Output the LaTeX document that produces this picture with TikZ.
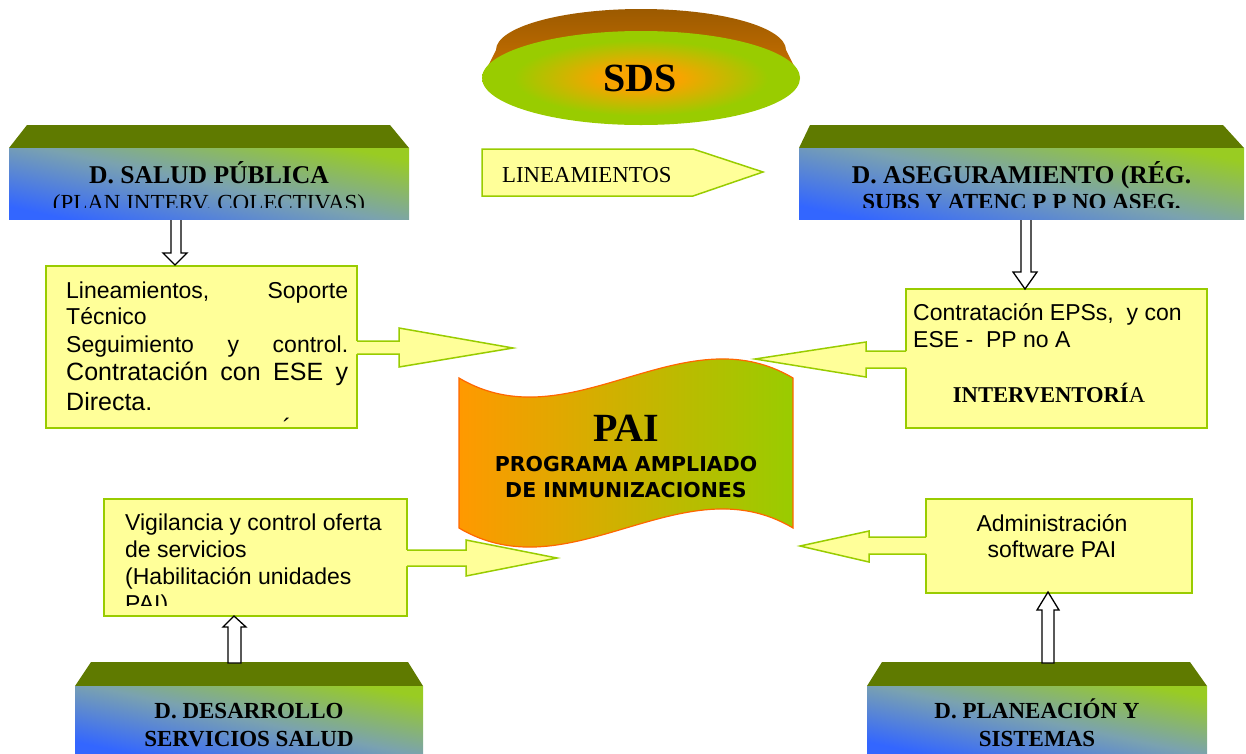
\documentclass[tikz,border=0pt]{standalone}
\usepackage{fontspec}
\setmainfont{Liberation Serif}
\setsansfont{Liberation Sans}
\newfontfamily\dvs{DejaVu Sans}
\definecolor{cYel}{HTML}{FFFF99}
\definecolor{cYG}{HTML}{99CC00}
\definecolor{cOlive}{HTML}{5F7A00}
\definecolor{cDB}{HTML}{3366FF}
\definecolor{cDM}{HTML}{7AA2B0}
\definecolor{cDG}{HTML}{99CC22}
\definecolor{cRimT}{HTML}{9C5A00}
\definecolor{cRimB}{HTML}{CC7200}
\definecolor{cSdsIn}{HTML}{F8A400}
\definecolor{cSdsOut}{HTML}{99CC00}
\definecolor{cPaiL}{HTML}{FF9900}
\definecolor{cPaiR}{HTML}{99CC00}
\definecolor{cPaiE}{HTML}{FF6600}
\pgfdeclareradialshading{sdsshade}{\pgfpoint{0bp}{0bp}}{color(0bp)=(cSdsIn); color(6bp)=(cSdsIn); color(13bp)=(cSdsIn!50!cSdsOut); color(20bp)=(cSdsOut); color(50bp)=(cSdsOut)}
\begin{document}
\begin{tikzpicture}[x=1pt,y=-1pt,
  ybox/.style={fill=cYel, draw=cYG, line width=1.5pt, inner sep=0pt},
  bafill/.style={fill=cYel},
  baline/.style={draw=cYG, line width=1.5pt, line join=miter},
  harrow/.style={fill=white, draw=black, line width=1.3pt, line join=miter},
  depttop/.style={fill=cOlive},
  deptfront/.style={top color=cDG, bottom color=cDB, middle color=cDM, shading angle=-12, inner sep=0pt},
  sanstxt/.style={font=\sffamily\fontsize{23}{27}\selectfont, inner sep=0pt},
  sansbig/.style={font=\sffamily\fontsize{25}{30}\selectfont, inner sep=0pt},
  deptA/.style={font=\bfseries\fontsize{25.6}{30}\selectfont, inner sep=0pt, anchor=base},
  deptB/.style={font=\fontsize{23}{27}\selectfont, inner sep=0pt, anchor=base},
  deptC/.style={font=\bfseries\fontsize{23}{27}\selectfont, inner sep=0pt, anchor=base},
  paisub/.style={font=\dvs\bfseries\fontsize{20.5}{24}\selectfont, inner sep=0pt, anchor=base}]
\useasboundingbox (0,0) rectangle (1246,753);

% ---------- SDS disc ----------
\shade[top color=cRimT, bottom color=cRimB] (482,78) -- (496,50)
  arc[start angle=180, end angle=360, x radius=145, y radius=41] -- (800,78) -- cycle;
\shade[shading=sdsshade] (641,78) ellipse [x radius=159, y radius=47];
\node[font=\bfseries\fontsize{40}{44}\selectfont, inner sep=0pt, anchor=base] (sds) at (640,91) {SDS};

% ---------- LINEAMIENTOS pentagon ----------
\filldraw[fill=cYel, draw=cYG, line width=1.5pt, line join=miter]
  (482,149) -- (693,149) -- (763,172) -- (693,196) -- (482,196) -- cycle;
\node[font=\fontsize{22.8}{26}\selectfont, inner sep=0pt, anchor=base west] (lin) at (502,182) {LINEAMIENTOS};

% ---------- department boxes ----------
% top-left
\fill[depttop] (27,125) -- (390,125) -- (409,148) -- (9,148) -- cycle;
\node[deptfront, minimum width=400pt, minimum height=71pt] (dsp) at (209,183.5) {};
\begin{scope}
  \clip (9,148) rectangle (409,207);
  \node[deptA] (dsp1) at (209,183) {D. SALUD PÚBLICA};
  \node[deptB] (dsp2) at (209,210) {(PLAN INTERV. COLECTIVAS)};
\end{scope}
% top-right
\fill[depttop] (810,125) -- (1223,125) -- (1244,148) -- (799,148) -- cycle;
\node[deptfront, minimum width=445pt, minimum height=71pt] (das) at (1021.5,183.5) {};
\begin{scope}
  \clip (799,148) rectangle (1244,207);
  \node[deptA] (das1) at (1021.5,183) {D. ASEGURAMIENTO (RÉG.};
  \node[deptC] (das2) at (1021.5,209) {SUBS Y ATENC P P NO ASEG.};
\end{scope}
% bottom-left
\fill[depttop] (91,662) -- (408,662) -- (423,686) -- (75,686) -- cycle;
\node[deptfront, minimum width=348pt, minimum height=67pt] (dds) at (249,719.5) {};
\node[deptC] (dds1) at (249,718) {D. DESARROLLO};
\node[deptC] (dds2) at (249,746) {SERVICIOS SALUD};
% bottom-right
\fill[depttop] (882,662) -- (1190,662) -- (1207,686) -- (867,686) -- cycle;
\node[deptfront, minimum width=340pt, minimum height=67pt] (dps) at (1037,719.5) {};
\node[deptC] (dps1) at (1037,718) {D. PLANEACIÓN Y};
\node[deptC] (dps2) at (1037,746) {SISTEMAS};

% ---------- PAI wave ----------
\shadedraw[left color=cPaiL, right color=cPaiR, draw=cPaiE, line width=1.2pt]
  (459,378) .. controls (570,444) and (682,312) .. (793,378) -- (793,528)
  .. controls (682,462) and (570,594) .. (459,528) -- cycle;
\node[font=\bfseries\fontsize{40}{44}\selectfont, inner sep=0pt, anchor=base] (pai) at (626,441) {PAI};
\node[paisub] (pai1) at (626,471) {PROGRAMA AMPLIADO};
\node[paisub] (pai2) at (626,497) {DE INMUNIZACIONES};

% ---------- yellow boxes ----------
\node[ybox, minimum width=311pt, minimum height=162pt] (ytl) at (201.5,347) {};
\node[ybox, minimum width=301pt, minimum height=139pt] (ytr) at (1056.5,358.5) {};
\node[ybox, minimum width=303pt, minimum height=117pt] (ybl) at (255.5,557.5) {};
\node[ybox, minimum width=266pt, minimum height=94pt] (ybr) at (1059,546) {};

% text of top-left box
\node[sanstxt, anchor=base west] (t1) at (66,298) {\makebox[282pt][s]{Lineamientos, Soporte}};
\node[sanstxt, anchor=base west] (t2) at (66,324) {Técnico};
\node[sanstxt, anchor=base west] (t3) at (66,352) {\makebox[282pt][s]{Seguimiento y control.}};
\node[sansbig, anchor=base west] (t4) at (66,380) {\makebox[282pt][s]{Contratación con ESE y}};
\node[sansbig, anchor=base west] (t5) at (66,410) {Directa.};
\node[sansbig, anchor=base] (t6) at (287,436) {´};

% text of top-right box
\node[sanstxt, anchor=base west] (r1) at (913,320) {Contratación EPSs,\ \ y con};
\node[sanstxt, anchor=base west] (r2) at (913,347) {ESE -\ \ PP no A};
\node[font=\fontsize{22.6}{26}\selectfont, inner sep=0pt, anchor=base] (r3) at (1049,402) {{\bfseries INTERVENTORÍ}A};

% text of bottom-left box
\begin{scope}
  \clip (104,499) rectangle (407,605);
  \node[sanstxt, anchor=base west] (b1) at (125,530) {Vigilancia y control oferta};
  \node[sanstxt, anchor=base west] (b2) at (125,557) {de servicios};
  \node[sanstxt, anchor=base west] (b3) at (125,584) {(Habilitación unidades};
  \node[sanstxt, anchor=base west] (b4) at (125,611) {PAI)};
\end{scope}

% text of bottom-right box
\node[sanstxt, anchor=base] (s1) at (1052,531) {Administración};
\node[sanstxt, anchor=base] (s2) at (1052,557) {software PAI};

% ---------- block arrows toward PAI ----------
\fill[bafill] (355,341) -- (399,341) -- (399,328) -- (513,348) -- (399,367) -- (399,354) -- (355,354) -- cycle;
\draw[baline] (357,341) -- (399,341) -- (399,328) -- (513,348) -- (399,367) -- (399,354) -- (357,354);

\fill[bafill] (908,351) -- (866,351) -- (866,342) -- (755,359) -- (866,377) -- (866,368) -- (908,368) -- cycle;
\draw[baline] (906,351) -- (866,351) -- (866,342) -- (755,359) -- (866,377) -- (866,368) -- (906,368);

\fill[bafill] (405,550) -- (466,550) -- (466,540) -- (557,558) -- (466,576) -- (466,566) -- (405,566) -- cycle;
\draw[baline] (407,550) -- (466,550) -- (466,540) -- (557,558) -- (466,576) -- (466,566) -- (407,566);

\fill[bafill] (928,537) -- (869,537) -- (869,531) -- (800,546) -- (869,562) -- (869,554) -- (928,554) -- cycle;
\draw[baline] (926,537) -- (869,537) -- (869,531) -- (800,546) -- (869,562) -- (869,554) -- (926,554);

% ---------- hollow arrows from departments ----------
\filldraw[harrow] (171,220) -- (171,253) -- (163,253) -- (175,265) -- (187,253) -- (181,253) -- (181,220);
\filldraw[harrow] (1021,220) -- (1021,272) -- (1013,272) -- (1025,289) -- (1037,272) -- (1031,272) -- (1031,220);
\filldraw[harrow] (228,663) -- (228,627) -- (223,627) -- (234,616) -- (246,627) -- (241,627) -- (241,663) -- cycle;
\filldraw[harrow] (1042,663) -- (1042,610) -- (1037,610) -- (1048,592) -- (1059,610) -- (1054,610) -- (1054,663) -- cycle;
\end{tikzpicture}
\end{document}
